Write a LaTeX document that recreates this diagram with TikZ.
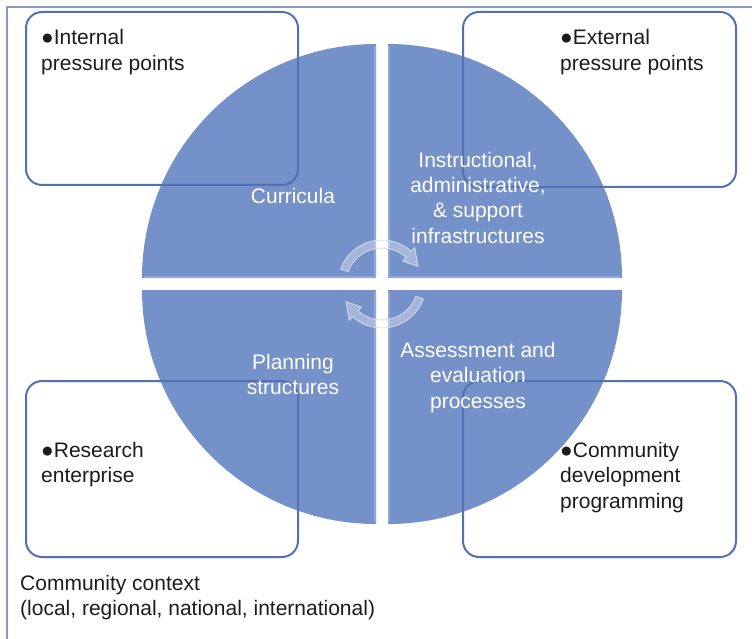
\documentclass[tikz,border=0pt]{standalone}
\usepackage{fontspec}
\setmainfont{Liberation Sans}
\definecolor{framecol}{RGB}{138,152,196}
\definecolor{quadcol}{RGB}{116,145,201}
\definecolor{bevelcol}{RGB}{168,188,226}
\definecolor{boxcol}{RGB}{84,112,180}
\definecolor{textcol}{RGB}{28,28,28}
\definecolor{arrowedge}{RGB}{214,220,238}
\begin{document}
\begin{tikzpicture}[x=1pt,y=-1pt,
  frameline/.style={draw=framecol,line width=1.5pt},
  quad/.style={fill=quadcol},
  bevel/.style={draw=bevelcol,line width=2pt,draw opacity=0.55},
  panel/.style={draw=boxcol,line width=2pt,rounded corners=16pt},
  itemtext/.style={anchor=base west,inner sep=0pt,align=left,text=textcol,
    font=\fontsize{21}{25.5}\selectfont},
  quadtext/.style={anchor=base,inner sep=0pt,align=center,text=white,
    font=\fontsize{21}{25.5}\selectfont},
  cycarrow/.style={fill=white,fill opacity=0.35,draw=arrowedge,draw opacity=0.9,line width=0.9pt}]
\useasboundingbox (0,0) rectangle (752,639);

% outer frame (community context)
\draw[frameline] (7,639) -- (7,7) -- (752,7);

% four quadrants of the central disc
\fill[quad] (376,278) -- ++(-234,0) arc[start angle=180,end angle=270,radius=234] -- cycle;
\fill[quad] (388,278) -- ++(0,-234) arc[start angle=270,end angle=360,radius=234] -- cycle;
\fill[quad] (388,290) -- ++(234,0) arc[start angle=0,end angle=90,radius=234] -- cycle;
\fill[quad] (376,290) -- ++(0,234) arc[start angle=90,end angle=180,radius=234] -- cycle;

% soft light edges along the straight sides
\draw[bevel] (144,277) -- (375,277) -- (375,46);
\draw[bevel] (389,46) -- (389,277) -- (620,277);
\draw[bevel] (375,522) -- (375,291);
\draw[bevel] (389,522) -- (389,291);

% corner panels
\draw[panel] (26,12) rectangle (298,185);
\draw[panel] (463,12) rectangle (736,187);
\draw[panel] (26,381) rectangle (298,557);
\draw[panel] (463,381) rectangle (736,557);

% cycle arrows at the centre
\begin{scope}[shift={(382,284)}]
  \filldraw[cycarrow] (200:44) arc[start angle=200,end angle=312,radius=44]
    -- (312:49) -- (334:40) -- (312:31) -- (312:36)
    arc[start angle=312,end angle=200,radius=36] -- cycle;
  \filldraw[cycarrow] (20:44) arc[start angle=20,end angle=132,radius=44]
    -- (132:49) -- (154:40) -- (132:31) -- (132:36)
    arc[start angle=132,end angle=20,radius=36] -- cycle;
\end{scope}

% quadrant labels (anchored at the baseline of their last line)
\node[quadtext] (curr) at (293,204) {Curricula};
\node[quadtext] (infra) at (478,243.5) {Instructional,\\administrative,\\\& support\\infrastructures};
\node[quadtext] (plan) at (293,394.5) {Planning\\structures};
\node[quadtext] (assess) at (478,408) {Assessment and\\evaluation\\processes};

% panel texts
\node[itemtext] (internal) at (41,70.5) {●Internal\\pressure points};
\node[itemtext] (external) at (560,70.5) {●External\\pressure points};
\node[itemtext] (research) at (41,482.5) {●Research\\enterprise};
\node[itemtext] (commdev) at (560,508) {●Community\\development\\programming};
\node[itemtext] (context) at (20,615.5) {Community context\\(local, regional, national, international)};
\end{tikzpicture}
\end{document}
